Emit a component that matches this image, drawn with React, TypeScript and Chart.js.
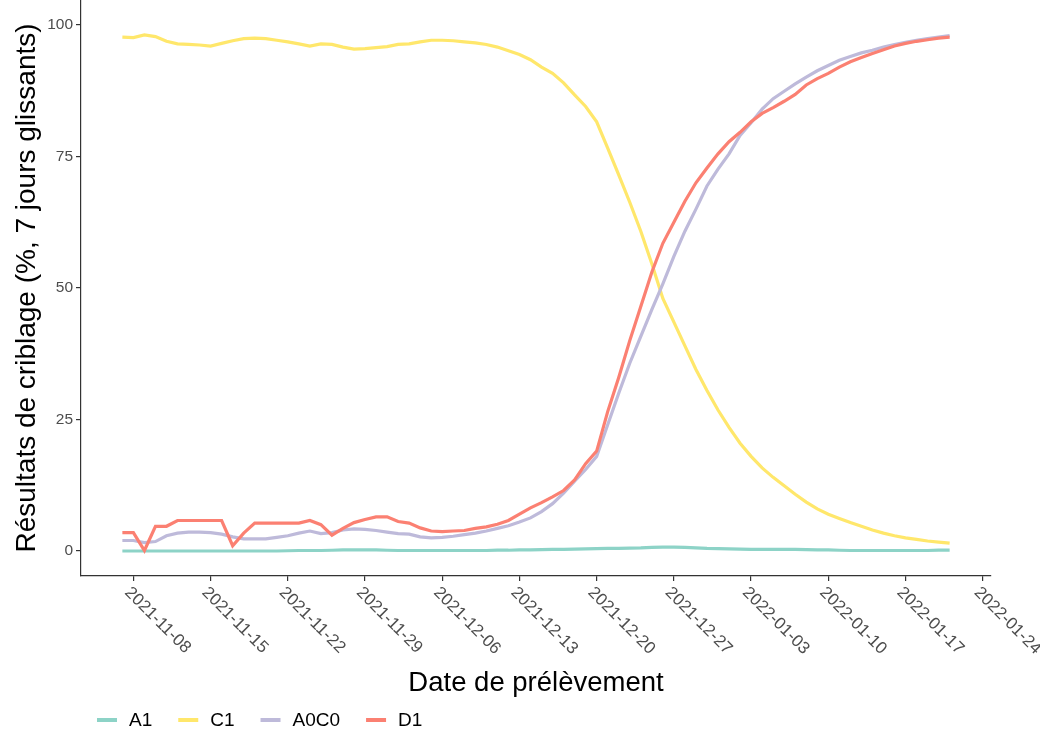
import React, { useEffect, useRef } from "react";
import { Chart, registerables } from "chart.js";

Chart.register(...registerables);

const FONT = '"Liberation Sans", Arial, sans-serif';

// Daily dates 2021-11-07 .. 2022-01-21
const dates: string[] = Array.from({ length: 76 }, (_, i) =>
  new Date(Date.UTC(2021, 10, 7 + i)).toISOString().slice(0, 10)
);

const xTickLabels = [
  "2021-11-08", "2021-11-15", "2021-11-22", "2021-11-29", "2021-12-06", "2021-12-13",
  "2021-12-20", "2021-12-27", "2022-01-03", "2022-01-10", "2022-01-17", "2022-01-24",
];
const yTickValues = [0, 25, 50, 75, 100];

const seriesNames = ["A1", "C1", "A0C0", "D1"];
const seriesColors = ["#8DD3C7", "#FFE76B", "#BEBADA", "#FB8072"];

const A1 = [
  0.0, 0.0, 0.0, 0.0, 0.0, 0.0, 0.0, 0.0, 0.0, 0.0, 0.0, 0.0, 0.0, 0.0, 0.0, 0.05,
  0.1, 0.1, 0.1, 0.15, 0.2, 0.2, 0.2, 0.2, 0.15, 0.1, 0.1, 0.1, 0.1, 0.1, 0.1, 0.1,
  0.1, 0.1, 0.15, 0.15, 0.2, 0.2, 0.25, 0.3, 0.3, 0.35, 0.4, 0.45, 0.5, 0.5, 0.55, 0.6,
  0.7, 0.75, 0.75, 0.7, 0.6, 0.5, 0.45, 0.4, 0.35, 0.3, 0.3, 0.3, 0.3, 0.3, 0.25, 0.2,
  0.2, 0.15, 0.1, 0.1, 0.1, 0.1, 0.1, 0.1, 0.1, 0.1, 0.15, 0.15,
];

const C1 = [
  97.7, 97.6, 98.1, 97.8, 96.9, 96.4, 96.3, 96.2, 96.0, 96.5, 97.0, 97.4, 97.5, 97.4, 97.1, 96.8,
  96.4, 96.0, 96.4, 96.3, 95.8, 95.4, 95.5, 95.7, 95.9, 96.3, 96.4, 96.8, 97.1, 97.1, 97.0, 96.8,
  96.6, 96.3, 95.8, 95.1, 94.4, 93.4, 92.0, 90.8, 89.0, 86.7, 84.5, 81.6, 76.6, 71.5, 66.3, 60.8,
  54.6, 48.0, 43.5, 39.0, 34.5, 30.5, 26.8, 23.5, 20.5, 18.0, 15.8, 14.0, 12.4, 10.8, 9.3, 8.0,
  7.0, 6.2, 5.4, 4.7, 4.0, 3.4, 2.9, 2.5, 2.2, 1.9, 1.7, 1.5,
];

const A0C0 = [
  2.0, 2.0, 1.6, 1.8, 2.9, 3.4, 3.6, 3.6, 3.5, 3.2, 2.7, 2.3, 2.3, 2.3, 2.6, 2.9,
  3.4, 3.8, 3.3, 3.5, 4.0, 4.2, 4.1, 3.9, 3.6, 3.3, 3.2, 2.7, 2.5, 2.6, 2.8, 3.1,
  3.4, 3.8, 4.3, 4.8, 5.5, 6.3, 7.5, 9.0, 11.0, 13.3, 15.5, 18.0, 24.0, 30.0, 35.7, 40.8,
  45.9, 50.8, 56.0, 60.8, 65.0, 69.4, 72.6, 75.5, 79.0, 81.4, 84.0, 86.0, 87.4, 88.8, 90.1, 91.3,
  92.3, 93.3, 94.0, 94.7, 95.2, 95.8, 96.3, 96.7, 97.1, 97.4, 97.7, 98.0,
];

const D1 = [
  3.5, 3.5, 0.1, 4.7, 4.7, 5.8, 5.8, 5.8, 5.8, 5.8, 1.0, 3.4, 5.3, 5.3, 5.3, 5.3,
  5.3, 5.8, 5.0, 3.0, 4.3, 5.4, 6.0, 6.5, 6.5, 5.6, 5.3, 4.4, 3.8, 3.7, 3.8, 3.9,
  4.3, 4.6, 5.1, 5.8, 7.0, 8.2, 9.2, 10.3, 11.5, 13.5, 16.6, 19.0, 26.5, 33.0, 40.0, 46.5,
  53.0, 58.5, 62.5, 66.5, 70.0, 72.8, 75.5, 77.8, 79.6, 81.6, 83.2, 84.3, 85.5, 86.8, 88.6, 89.8,
  90.8, 92.0, 93.0, 93.8, 94.6, 95.3, 96.0, 96.5, 96.9, 97.2, 97.5, 97.7,
];

const seriesValues = [A1, C1, A0C0, D1];

const yTitle = "Résultats de criblage (%, 7 jours glissants)";
const xTitle = "Date de prélèvement";

function dayIndex(d: string): number {
  const [y, m, dd] = d.split("-").map(Number);
  return Math.round((Date.UTC(y, m - 1, dd) - Date.UTC(2021, 10, 7)) / 86400000);
}

const decorPlugin = {
  id: "decor",
  afterDraw(chart: any) {
    const ctx = chart.ctx as CanvasRenderingContext2D;
    const xs = chart.scales.x;
    const area = chart.chartArea;
    ctx.save();
    // rotated x tick labels
    ctx.fillStyle = "#4D4D4D";
    ctx.font = `17px ${FONT}`;
    ctx.textAlign = "left";
    ctx.textBaseline = "top";
    xTickLabels.forEach((lbl) => {
      const px = xs.getPixelForValue(dayIndex(lbl));
      ctx.save();
      ctx.translate(px, area.bottom + 8);
      ctx.rotate(Math.PI / 4);
      ctx.fillText(lbl, 0, 0);
      ctx.restore();
    });
    // x title
    ctx.fillStyle = "#000000";
    ctx.font = `27.5px ${FONT}`;
    ctx.textAlign = "center";
    ctx.textBaseline = "middle";
    ctx.fillText(xTitle, (area.left + area.right) / 2, 683);
    // legend
    ctx.font = `19px ${FONT}`;
    ctx.textAlign = "left";
    let lx = 97;
    const ly = 720;
    chart.data.datasets.slice().sort((a: any, b: any) => a.legendIndex - b.legendIndex).forEach((ds: any) => {
      ctx.strokeStyle = ds.borderColor;
      ctx.lineWidth = 4;
      ctx.beginPath();
      ctx.moveTo(lx, ly);
      ctx.lineTo(lx + 20, ly);
      ctx.stroke();
      ctx.fillStyle = "#000000";
      ctx.fillText(ds.label, lx + 32, ly + 1);
      lx += 32 + ctx.measureText(ds.label).width + 26;
    });
    ctx.restore();
  },
};

export default function App() {
  const ref = useRef<HTMLCanvasElement | null>(null);

  useEffect(() => {
    if (!ref.current) return;
    const datasets = seriesNames.map((name, k) => ({
      label: name,
      legendIndex: k,
      data: seriesValues[k].map((v, i) => ({ x: dayIndex(dates[i]), y: v })),
      borderColor: seriesColors[k],
      backgroundColor: seriesColors[k],
      borderWidth: 3.2,
      pointRadius: 0,
      tension: 0,
      fill: false,
      order: seriesNames.length - k,
    }));

    const chart = new Chart(ref.current, {
      type: "line",
      data: { datasets: datasets as any },
      plugins: [decorPlugin as any],
      options: {
        animation: false,
        responsive: false,
        devicePixelRatio: 1,
        layout: { padding: { left: 0, right: 49, top: 0, bottom: 0 } },
        plugins: { legend: { display: false }, tooltip: { enabled: false } },
        scales: {
          x: {
            type: "linear",
            min: -3.75,
            max: 78.75,
            afterBuildTicks: (s: any) => {
              s.ticks = xTickLabels.map((l) => ({ value: dayIndex(l) }));
            },
            afterFit: (s: any) => {
              s.height = 162;
              s.paddingLeft = 0;
              s.paddingRight = 0;
            },
            ticks: { display: false },
            grid: {
              display: true,
              drawOnChartArea: false,
              drawTicks: true,
              tickLength: 5,
              tickColor: "#333333",
              lineWidth: 1.2,
            },
            border: { display: true, color: "#333333", width: 1.2 },
          },
          y: {
            type: "linear",
            min: -4.75,
            max: 104.75,
            afterBuildTicks: (s: any) => {
              s.ticks = yTickValues.map((v) => ({ value: v }));
            },
            afterFit: (s: any) => {
              s.width = 81;
              s.paddingTop = 0;
              s.paddingBottom = 0;
            },
            ticks: {
              color: "#4D4D4D",
              font: { family: FONT, size: 15.5 },
              padding: 3,
              callback: (v: any) => String(v),
            },
            grid: {
              display: true,
              drawOnChartArea: false,
              drawTicks: true,
              tickLength: 5,
              tickColor: "#333333",
              lineWidth: 1.2,
            },
            border: { display: true, color: "#333333", width: 1.2 },
            title: {
              display: true,
              text: yTitle,
              color: "#000000",
              font: { family: FONT, size: 28 },
              padding: { top: 10, bottom: 0 },
            },
          },
        },
      },
    });
    return () => chart.destroy();
  }, []);

  return (
    <div style={{ position: "fixed", left: 0, top: 0, width: 1040, height: 738, background: "#fff" }}>
      <canvas ref={ref} width={1040} height={738} style={{ display: "block" }} />
    </div>
  );
}
